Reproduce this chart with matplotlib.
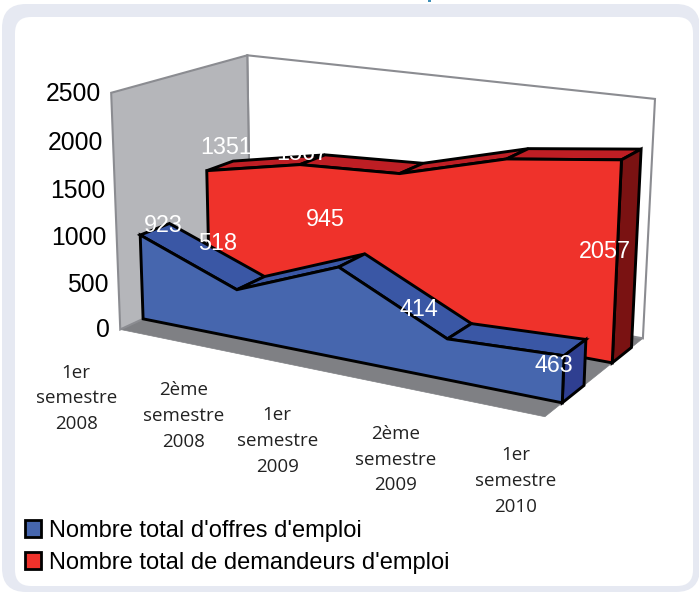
import numpy as np
import matplotlib
matplotlib.use("Agg")
import matplotlib.pyplot as plt
from matplotlib.patches import FancyBboxPatch, Polygon, Patch, Rectangle

# ---- data ----
categories = ["1er\nsemestre\n2008", "2ème\nsemestre\n2008", "1er\nsemestre\n2009",
              "2ème\nsemestre\n2009", "1er\nsemestre\n2010"]
offres = [923, 518, 945, 414, 463]
demandeurs = [1351, 1567, 1620, 1920, 2057]
y_ticks = [0, 500, 1000, 1500, 2000, 2500]
series_names = ["Nombre total d'offres d'emploi", "Nombre total de demandeurs d'emploi"]

# ---- camera: fit a projective map from (category, value, depth) to canvas pixels ----
Y_MAX = y_ticks[-1]
X_MAX = len(categories) - 1
BLUE_Z = (0.16, 0.37)
RED_Z = (0.66, 0.87)
anchors = [
    ((0, 0, 0), (121, 329), 4), ((0, Y_MAX, 0), (111, 93), 4), ((0, Y_MAX, 1), (248, 55), 4),
    ((0, 0, 1), (250, 283), 1), ((X_MAX, Y_MAX, 1), (656, 99), 4), ((X_MAX, 0, 1), (643, 337), 4),
    ((X_MAX, 0, 0), (546, 417), 4),
    ((X_MAX, 2057, RED_Z[0]), (621, 161), 3), ((X_MAX, 0, RED_Z[0]), (612, 364), 2),
    ((X_MAX, 2057, RED_Z[1]), (639, 148), 3), ((X_MAX, 0, RED_Z[1]), (631, 350), 2),
    ((X_MAX, 463, BLUE_Z[0]), (562, 356), 2), ((X_MAX, 0, BLUE_Z[0]), (562, 403), 2),
    ((0, 923, BLUE_Z[0]), (139, 235), 2), ((0, 0, BLUE_Z[0]), (141, 317), 2),
    ((0, 1351, RED_Z[0]), (205, 171), 2),
]
A, b = [], []
for (wx, wy, wz), (u, v), w in anchors:
    wy = wy / 1000
    A.append([w * c for c in [wx, wy, wz, 1, 0, 0, 0, 0, -u * wx, -u * wy, -u * wz]]); b.append(w * u)
    A.append([w * c for c in [0, 0, 0, 0, wx, wy, wz, 1, -v * wx, -v * wy, -v * wz]]); b.append(w * v)
h = np.linalg.lstsq(np.array(A, float), np.array(b, float), rcond=None)[0]
P = np.append(h, 1.0).reshape(3, 4)


def proj(x, y, z):
    p = P @ np.array([x, y / 1000, z, 1.0])
    return p[0] / p[2], p[1] / p[2]


# ---- figure ----
fig = plt.figure(figsize=(6.99, 5.93), dpi=100)
ax = fig.add_axes([0, 0, 1, 1])
ax.set_xlim(0, 699)
ax.set_ylim(593, 0)
ax.axis("off")

ax.add_patch(FancyBboxPatch((2 + 24, 4 + 24), 700 - 2 - 48, 592 - 4 - 48,
                            boxstyle="round,pad=24,rounding_size=24", fc="#E6E9F2", ec="none"))
ax.add_patch(FancyBboxPatch((15 + 16, 17 + 16), 693 - 15 - 32, 586 - 17 - 32,
                            boxstyle="round,pad=16,rounding_size=16", fc="white", ec="none"))
ax.add_patch(Rectangle((428, 0), 2.5, 2, fc="#3E8FB8", ec="none"))


def face(points, fc, ec="black", lw=2.1, z=2):
    ax.add_patch(Polygon([proj(*p) for p in points], closed=True, fc=fc, ec=ec, lw=lw,
                         joinstyle="miter", zorder=z))


# walls and floor
wall_edge = "#8B8C91"
face([(0, 0, 0), (X_MAX, 0, 0), (X_MAX, 0, 1), (0, 0, 1)], "#7F8084", ec="#7F8084", lw=0.5, z=1)
face([(0, 0, 1), (0, Y_MAX, 1), (X_MAX, Y_MAX, 1), (X_MAX, 0, 1)], "white", ec=wall_edge, lw=1.5, z=1)
face([(0, 0, 0), (0, Y_MAX, 0), (0, Y_MAX, 1), (0, 0, 1)], "#B5B6BA", ec=wall_edge, lw=1.5, z=1)


def area(values, zr, front, top, side, base_z):
    z0, z1 = zr
    xs = range(len(values))
    for i in range(len(values) - 1):
        face([(i, values[i], z0), (i + 1, values[i + 1], z0),
              (i + 1, values[i + 1], z1), (i, values[i], z1)], top, z=base_z)
    n = len(values) - 1
    face([(n, 0, z0), (n, values[n], z0), (n, values[n], z1), (n, 0, z1)], side, z=base_z + 1)
    outline = [(i, values[i], z0) for i in xs] + [(n, 0, z0), (0, 0, z0)]
    face(outline, front, z=base_z + 2)


area(demandeurs, RED_Z, "#EF322B", "#BE1E24", "#7A1212", 3)
area(offres, BLUE_Z, "#4666AE", "#3A57A5", "#2F3F91", 7)

# y axis labels
sans = ["Liberation Sans", "DejaVu Sans"]
for t in y_ticks:
    u, v = proj(0, t, 0)
    ax.text(u - 10, v + 1, str(t), ha="right", va="center", fontsize=17.8, family=sans, color="black", zorder=12)

# category labels, centred at offsets below the front edge of the floor
label_shift = [(-44, 69), (-32, 67), (-41, 71), (-32, 67), (-29, 64)]
for i, c in enumerate(categories):
    u, v = proj(i, 0, 0)
    ax.text(u + label_shift[i][0], v + label_shift[i][1], c, ha="center", va="center",
            fontsize=13.5, family=["Open Sans", "DejaVu Sans"], color="#222222",
            linespacing=1.56, zorder=12)

# value labels
label_px = {"offres": [(163, 225), (218, 244), (325, 219), (419, 310), (554, 366)],
            "dem": [(226, 147), (302, 154), (605, 252)]}
for (u, v), val in zip(label_px["offres"], offres):
    tx = ax.text(u, v, str(val), ha="center", va="center", fontsize=16.8, family=sans, color="white", zorder=13)
    if val == 463:
        tx.set_clip_path(Rectangle((538, 340), 60, 50, transform=ax.transData))
for (u, v), val in zip(label_px["dem"], [demandeurs[0], demandeurs[1], demandeurs[4]]):
    tx = ax.text(u, v, str(val), ha="center", va="center", fontsize=16.8, family=sans, color="white", zorder=13)
    if val == 2057:
        tx.set_clip_path(Rectangle((582, 230), 60, 50, transform=ax.transData))

# legend
handles = [Patch(fc="#4666AE", ec="black", lw=2), Patch(fc="#EF322B", ec="black", lw=2)]
ax.legend(handles, series_names, loc="lower left", bbox_to_anchor=(25 / 699, 1 - 574 / 593),
          borderaxespad=0, borderpad=0, frameon=False, prop={"family": "Liberation Sans", "size": 17.0},
          handlelength=0.67, handleheight=0.72, handletextpad=0.34, labelspacing=0.42)

fig.savefig("out.png", dpi=100)
